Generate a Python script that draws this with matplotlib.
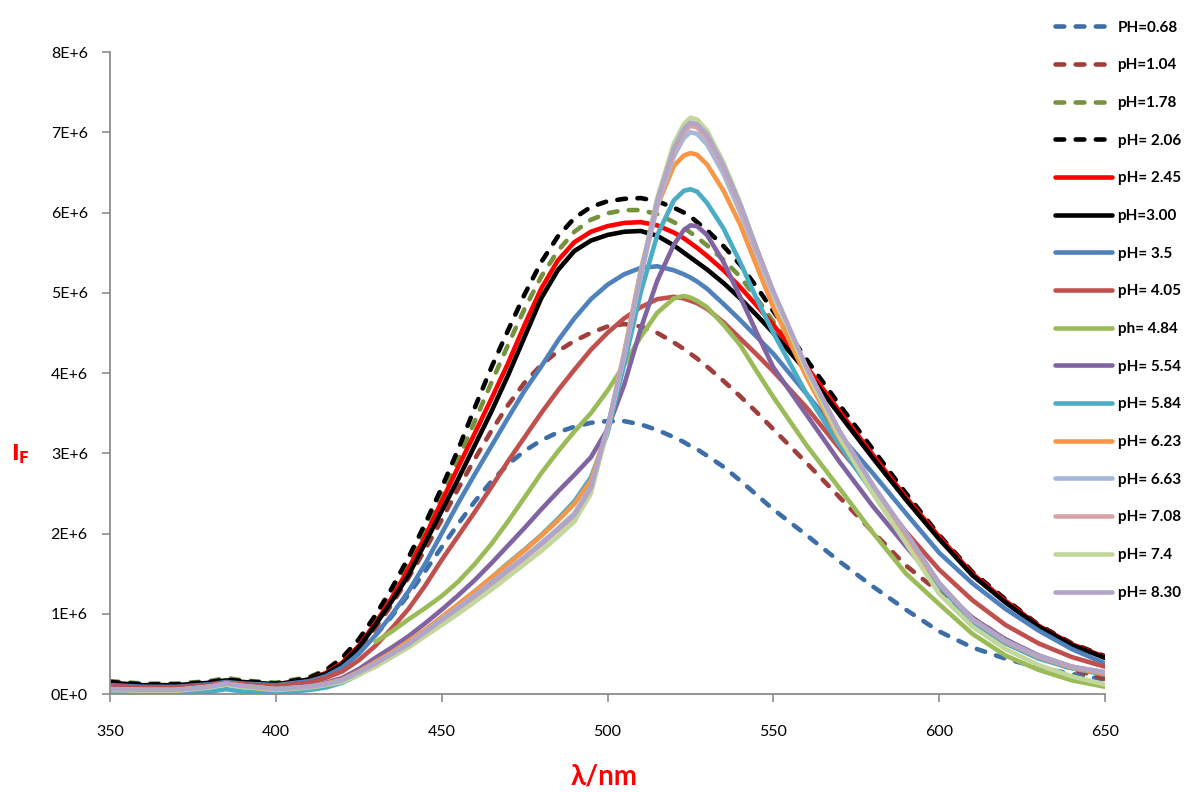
#!/usr/bin/env python3
"""
Fluorescence emission spectra at different pH values (I_F vs wavelength).
"""

import matplotlib
matplotlib.use("Agg")
import matplotlib.pyplot as plt
import numpy as np

nan = np.nan

# wavelength grid (nm)
wavelength = [350, 360, 370, 380, 385, 390, 400, 410, 415, 420, 425, 430, 435, 440,
              445, 450, 455, 460, 465, 470, 475, 480, 485, 490, 495, 500, 505, 510,
              515, 520, 523, 525, 527, 530, 535, 540, 545, 550, 560, 570, 580, 590,
              600, 610, 620, 630, 640, 650]

# intensities in units of 1E+6
ph_068 = [0.12, 0.10, 0.10, 0.13, 0.16, 0.14, 0.12, 0.17, 0.24, 0.35, 0.52, 0.73, 0.97, 1.24,
          1.53, 1.83, 2.12, 2.40, 2.65, 2.86, 3.03, 3.16, 3.26, 3.33, 3.38, 3.40, 3.40, 3.36,
          3.29, 3.20, 3.14, 3.09, 3.05, 2.97, 2.83, 2.66, 2.48, 2.30, 1.98, 1.65, 1.34, 1.05,
          0.78, 0.58, 0.44, 0.33, 0.25, 0.18]
ph_104 = [0.13, 0.10, 0.10, 0.13, 0.16, 0.14, 0.12, 0.18, 0.26, 0.38, 0.57, 0.82, 1.12, 1.45,
          1.80, 2.17, 2.56, 2.93, 3.28, 3.60, 3.88, 4.10, 4.27, 4.40, 4.50, 4.58, 4.61, 4.58,
          4.50, 4.38, 4.30, 4.24, 4.18, 4.08, 3.90, 3.71, 3.51, 3.30, 2.88, 2.45, 2.02, 1.60,
          1.27, 0.95, 0.68, 0.47, 0.31, 0.19]
ph_178 = [0.16, 0.13, 0.13, 0.16, 0.20, 0.17, 0.14, 0.21, 0.30, 0.45, 0.67, 0.95, 1.27, 1.63,
          2.03, 2.46, 2.92, 3.40, 3.88, 4.35, 4.80, 5.20, 5.52, 5.76, 5.91, 5.99, 6.03, 6.03,
          5.98, 5.88, 5.81, 5.75, 5.69, 5.59, 5.41, 5.20, 4.93, 4.64, 4.08, 3.50, 2.96, 2.43,
          1.94, 1.50, 1.15, 0.85, 0.62, 0.45]
ph_206 = [0.15, 0.12, 0.12, 0.15, 0.18, 0.16, 0.13, 0.20, 0.29, 0.45, 0.68, 0.98, 1.32, 1.70,
          2.12, 2.57, 3.05, 3.57, 4.07, 4.53, 4.98, 5.38, 5.70, 5.93, 6.07, 6.14, 6.17, 6.18,
          6.14, 6.06, 6.00, 5.95, 5.88, 5.78, 5.58, 5.35, 5.07, 4.77, 4.17, 3.60, 3.05, 2.50,
          1.98, 1.52, 1.18, 0.86, 0.63, 0.47]
ph_245 = [0.13, 0.10, 0.10, 0.13, 0.16, 0.14, 0.12, 0.18, 0.26, 0.39, 0.60, 0.88, 1.20, 1.56,
          1.96, 2.40, 2.83, 3.25, 3.68, 4.12, 4.60, 5.05, 5.40, 5.63, 5.76, 5.83, 5.87, 5.88,
          5.84, 5.75, 5.68, 5.62, 5.56, 5.46, 5.28, 5.07, 4.84, 4.60, 4.08, 3.52, 2.98, 2.45,
          1.96, 1.50, 1.16, 0.85, 0.62, 0.46]
ph_300 = [0.14, 0.11, 0.11, 0.14, 0.17, 0.15, 0.12, 0.18, 0.25, 0.37, 0.58, 0.86, 1.16, 1.48,
          1.88, 2.28, 2.68, 3.10, 3.52, 3.97, 4.45, 4.93, 5.28, 5.52, 5.65, 5.72, 5.76, 5.77,
          5.71, 5.59, 5.50, 5.44, 5.38, 5.29, 5.12, 4.93, 4.72, 4.50, 4.02, 3.48, 2.94, 2.42,
          1.93, 1.48, 1.14, 0.84, 0.61, 0.45]
ph_35 = [0.11, 0.09, 0.09, 0.12, 0.15, 0.13, 0.11, 0.16, 0.22, 0.33, 0.50, 0.73, 0.99, 1.28,
         1.62, 2.00, 2.38, 2.74, 3.09, 3.44, 3.78, 4.08, 4.40, 4.68, 4.92, 5.10, 5.23, 5.31,
         5.33, 5.28, 5.23, 5.19, 5.14, 5.05, 4.86, 4.66, 4.45, 4.24, 3.74, 3.23, 2.75, 2.25,
         1.76, 1.38, 1.06, 0.79, 0.56, 0.38]
ph_405 = [0.10, 0.08, 0.08, 0.11, 0.14, 0.12, 0.10, 0.14, 0.20, 0.28, 0.42, 0.60, 0.82, 1.06,
          1.35, 1.67, 1.97, 2.27, 2.58, 2.90, 3.20, 3.50, 3.78, 4.04, 4.29, 4.50, 4.68, 4.82,
          4.92, 4.95, 4.93, 4.90, 4.87, 4.80, 4.63, 4.43, 4.23, 4.02, 3.57, 3.06, 2.56, 2.02,
          1.55, 1.17, 0.86, 0.63, 0.46, 0.34]
ph_484 = [nan, nan, nan, nan, nan, nan, nan, nan, nan, nan, nan, 0.65, 0.78, 0.93,
          1.07, 1.22, 1.40, 1.62, 1.87, 2.15, 2.45, 2.75, 3.02, 3.27, 3.50, 3.78, 4.10, 4.45,
          4.75, 4.93, 4.96, 4.94, 4.90, 4.82, 4.60, 4.35, 4.02, 3.70, 3.10, 2.56, 2.01, 1.50,
          1.12, 0.75, 0.48, 0.30, 0.17, 0.09]
ph_554 = [0.07, 0.05, 0.05, 0.09, 0.13, 0.10, 0.06, 0.10, 0.14, 0.20, 0.31, 0.45, 0.58, 0.72,
          0.88, 1.05, 1.23, 1.42, 1.63, 1.85, 2.07, 2.30, 2.52, 2.73, 2.95, 3.30, 3.85, 4.55,
          5.15, 5.60, 5.78, 5.84, 5.83, 5.72, 5.38, 4.95, 4.50, 4.07, 3.48, 2.89, 2.34, 1.84,
          1.35, 0.95, 0.68, 0.48, 0.34, 0.25]
ph_584 = [0.02, 0.00, 0.00, 0.03, 0.06, 0.03, 0.01, 0.05, 0.08, 0.14, 0.24, 0.36, 0.49, 0.63,
          0.79, 0.95, 1.11, 1.28, 1.45, 1.63, 1.80, 1.98, 2.18, 2.40, 2.70, 3.25, 4.10, 5.00,
          5.72, 6.15, 6.27, 6.29, 6.26, 6.12, 5.80, 5.38, 4.92, 4.50, 3.74, 3.10, 2.51, 1.90,
          1.35, 0.90, 0.63, 0.44, 0.32, 0.24]
ph_623 = [0.06, 0.05, 0.05, 0.09, 0.12, 0.09, 0.05, 0.09, 0.13, 0.18, 0.28, 0.40, 0.52, 0.66,
          0.80, 0.96, 1.12, 1.28, 1.45, 1.62, 1.79, 1.97, 2.16, 2.37, 2.66, 3.30, 4.25, 5.28,
          6.08, 6.58, 6.71, 6.74, 6.72, 6.60, 6.27, 5.85, 5.33, 4.82, 3.95, 3.18, 2.53, 1.94,
          1.38, 0.93, 0.65, 0.46, 0.33, 0.25]
ph_663 = [0.06, 0.05, 0.05, 0.09, 0.13, 0.10, 0.06, 0.09, 0.12, 0.17, 0.27, 0.38, 0.50, 0.63,
          0.78, 0.93, 1.08, 1.23, 1.39, 1.55, 1.71, 1.88, 2.06, 2.25, 2.58, 3.30, 4.20, 5.20,
          6.08, 6.70, 6.93, 7.00, 6.98, 6.85, 6.48, 6.00, 5.48, 4.97, 4.05, 3.27, 2.60, 2.00,
          1.38, 0.93, 0.66, 0.47, 0.34, 0.27]
ph_708 = [0.06, 0.05, 0.05, 0.09, 0.13, 0.10, 0.06, 0.09, 0.12, 0.17, 0.26, 0.37, 0.49, 0.62,
          0.76, 0.91, 1.06, 1.21, 1.37, 1.53, 1.69, 1.86, 2.04, 2.22, 2.56, 3.32, 4.22, 5.22,
          6.12, 6.76, 7.00, 7.08, 7.06, 6.93, 6.55, 6.06, 5.52, 5.00, 4.07, 3.27, 2.60, 2.00,
          1.38, 0.93, 0.66, 0.47, 0.34, 0.27]
ph_74 = [0.05, 0.04, 0.04, 0.08, 0.12, 0.09, 0.05, 0.08, 0.11, 0.15, 0.24, 0.34, 0.46, 0.58,
         0.72, 0.86, 1.00, 1.15, 1.30, 1.46, 1.62, 1.78, 1.96, 2.15, 2.50, 3.30, 4.22, 5.25,
         6.18, 6.86, 7.10, 7.18, 7.16, 7.02, 6.62, 6.12, 5.55, 5.00, 4.02, 3.20, 2.50, 1.88,
         1.25, 0.84, 0.56, 0.36, 0.22, 0.12]
ph_830 = [0.06, 0.05, 0.05, 0.09, 0.13, 0.10, 0.06, 0.09, 0.12, 0.17, 0.27, 0.38, 0.50, 0.62,
          0.77, 0.92, 1.07, 1.22, 1.38, 1.54, 1.70, 1.87, 2.05, 2.23, 2.57, 3.32, 4.22, 5.24,
          6.15, 6.80, 7.04, 7.12, 7.10, 6.97, 6.58, 6.10, 5.55, 5.02, 4.07, 3.27, 2.60, 2.01,
          1.38, 0.93, 0.66, 0.47, 0.34, 0.27]

labels = ["PH=0.68", "pH=1.04", "pH=1.78", "pH= 2.06", "pH= 2.45", "pH=3.00",
          "pH= 3.5", "pH= 4.05", "ph= 4.84", "pH= 5.54", "pH= 5.84", "pH= 6.23",
          "pH= 6.63", "pH= 7.08", "pH= 7.4", "pH= 8.30"]
colors = ["#3E6EA8", "#A03E3B", "#76923C", "#000000", "#FF0000", "#000000",
          "#4F81BD", "#C0504D", "#9BBB59", "#8064A2", "#4BACC6", "#F79646",
          "#A6B8D8", "#D9A5A4", "#C3D69B", "#B2A6C8"]
dashed = [True, True, True, True] + [False] * 12

xticks = [350, 400, 450, 500, 550, 600, 650]
yticks = [0, 1, 2, 3, 4, 5, 6, 7, 8]
ytick_labels = ["0E+0", "1E+6", "2E+6", "3E+6", "4E+6", "5E+6", "6E+6", "7E+6", "8E+6"]

series = [ph_068, ph_104, ph_178, ph_206, ph_245, ph_300, ph_35, ph_405,
          ph_484, ph_554, ph_584, ph_623, ph_663, ph_708, ph_74, ph_830]

FONT = ["Lato", "DejaVu Sans"]
AXIS_GREY = "#8C8C8C"
LW = 3.3

plt.rcParams["font.family"] = FONT

fig = plt.figure(figsize=(11.88, 7.92), dpi=100)
ax = fig.add_axes([110 / 1188, 1 - 694 / 792, 995 / 1188, 642 / 792])

x = np.array(wavelength, dtype=float)
handles = []
for vals, lab, col, dash in zip(series, labels, colors, dashed):
    y = np.array(vals, dtype=float)
    if dash:
        (ln,) = ax.plot(x, y, color=col, lw=LW, linestyle=(0, (1.9, 2.5)),
                        dash_capstyle="round", label=lab)
    else:
        (ln,) = ax.plot(x, y, color=col, lw=LW, solid_capstyle="round",
                        solid_joinstyle="round", label=lab)
    handles.append(ln)

ax.set_xlim(350, 650)
ax.set_ylim(0, 8)
ax.set_xticks(xticks)
ax.set_yticks(yticks)
ax.set_yticklabels(ytick_labels)

for side in ("top", "right"):
    ax.spines[side].set_visible(False)
for side in ("left", "bottom"):
    ax.spines[side].set_color(AXIS_GREY)
    ax.spines[side].set_linewidth(1.3)

ax.tick_params(axis="both", direction="out", length=6, width=1.2, color=AXIS_GREY,
               labelsize=11.5, labelcolor="black")
ax.tick_params(axis="x", pad=16)
ax.tick_params(axis="y", pad=10)

ax.set_ylabel(r"$\mathbf{I_F}$", rotation=0, color="red", fontsize=15)
ax.yaxis.set_label_coords(-0.09, 0.355)

fig.text(604 / 1188, 1 - 777 / 792, "λ/nm", ha="center", va="center",
         fontsize=20, fontweight="bold", color="red")

fig.legend(handles=handles, labels=labels, loc="upper left",
           bbox_to_anchor=(1047 / 1188, 1 - 13 / 792), frameon=False,
           borderpad=0, handlelength=3.73, handletextpad=0.39, labelspacing=1.55,
           prop={"family": FONT, "weight": "bold", "size": 11})

fig.savefig("out.png", dpi=100)
plt.close(fig)
